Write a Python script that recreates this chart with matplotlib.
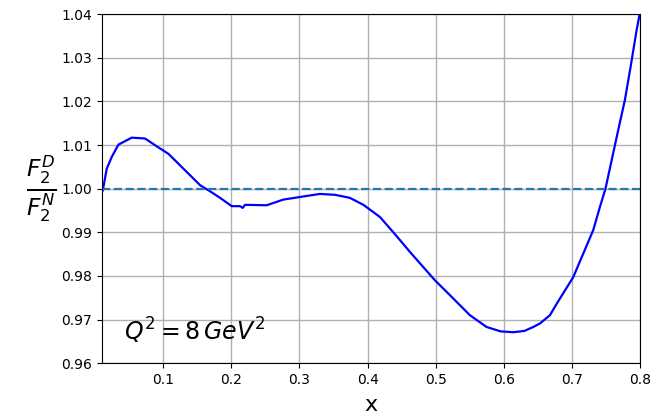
import numpy as np
import matplotlib.pyplot as plt

# ratio F2^D / F2^N at Q^2 = 8 GeV^2
x = [0.0107, 0.0116, 0.0174, 0.0248, 0.0345, 0.0443, 0.0541, 0.0640, 0.0736,
     0.0908, 0.1078, 0.1298, 0.1543, 0.169, 0.1836, 0.2007, 0.2129, 0.2168,
     0.2202, 0.252, 0.2764, 0.3009, 0.330, 0.352, 0.374, 0.3939, 0.4035,
     0.4182, 0.4400, 0.4622, 0.4988, 0.5208, 0.5501, 0.5746, 0.5950, 0.6136,
     0.6300, 0.643, 0.6528, 0.6675, 0.6773, 0.7016, 0.7163, 0.731, 0.7408,
     0.749, 0.758, 0.7676, 0.7774, 0.7858, 0.7946, 0.8]
ratio = [0.9994, 0.9996, 1.0046, 1.0073, 1.0101, 1.0109, 1.0117, 1.0116, 1.0115,
         1.0097, 1.0080, 1.0046, 1.0008, 0.9994, 0.9979, 0.9960, 0.9960, 0.9956,
         0.9963, 0.9962, 0.9975, 0.9981, 0.9988, 0.9986, 0.9979, 0.9963, 0.9952,
         0.9935, 0.9896, 0.9855, 0.9790, 0.9756, 0.9710, 0.9683, 0.9673, 0.9671,
         0.9674, 0.9683, 0.9691, 0.9710, 0.9736, 0.9797, 0.9851, 0.9905, 0.9958,
         1.0000, 1.0065, 1.0134, 1.0203, 1.0279, 1.0363, 1.0408]

fig = plt.figure(figsize=(6.52, 4.17), dpi=100)
ax = fig.add_axes([0.156, 0.129, 0.826, 0.837])

ax.plot(x, ratio, color='blue', lw=1.6)
ax.axhline(1.0, color='#1f77b4', ls='--', lw=1.6)

ax.set_xlim(0.01, 0.8)
ax.set_ylim(0.96, 1.04)
ax.set_xticks([0.1, 0.2, 0.3, 0.4, 0.5, 0.6, 0.7, 0.8])
ax.set_yticks(np.arange(0.96, 1.0401, 0.01))
ax.yaxis.set_major_formatter(plt.FormatStrFormatter('%.2f'))
ax.grid(True, color='#b0b0b0', lw=1)

ax.set_xlabel('x', fontsize=16, labelpad=6)
ax.set_ylabel(r'$\frac{F_2^D}{F_2^N}$', fontsize=24, rotation=0, ha='center', va='center')
ax.yaxis.set_label_coords(-0.112, 0.5)

ax.text(0.043, 0.9652, r'$Q^2 = 8\,GeV^2$', fontsize=17)

fig.savefig('out.png')
